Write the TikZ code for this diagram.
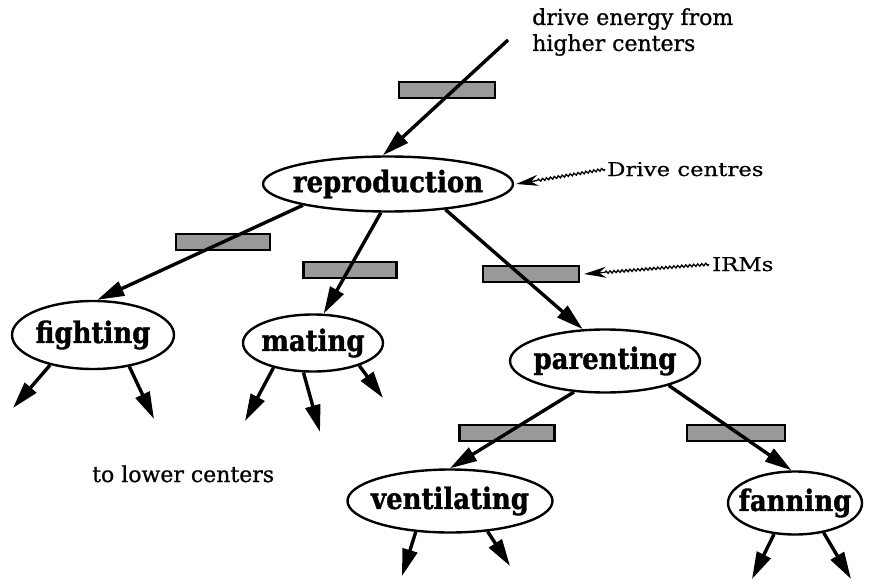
\documentclass[tikz,border=0pt]{standalone}
\usepackage{fontspec}
\setmainfont{DejaVu Serif}
\newfontfamily\labfont{DejaVu Serif}[FakeBold=0.8]
\newfontfamily\ptrfont{DejaVu Serif}[FakeStretch=1.2,FakeBold=0.6]
\newfontfamily\nodefont{DejaVu Serif}[FakeStretch=0.88,FakeBold=1.2]
\usetikzlibrary{arrows.meta,decorations.pathmorphing,shapes.geometric}
\begin{document}
\begin{tikzpicture}[x=1pt,y=-1pt,
  behav/.style={ellipse,draw,line width=2.4pt,inner sep=0pt,font=\nodefont\bfseries\fontsize{29.5}{31}\selectfont},
  bar/.style={rectangle,draw,line width=2.4pt,fill=black!40,inner sep=0pt,minimum height=16pt},
  link/.style={line width=3.4pt,-{Triangle[length=27pt,width=15pt]}},
  ptr/.style={line width=1.3pt,decorate,decoration={snake,amplitude=1.2pt,segment length=4pt,post length=20pt},-{Stealth[length=22pt,width=11pt]}},
  lab/.style={inner sep=0pt,font=\labfont\fontsize{22}{26}\selectfont,align=left},
  plab/.style={inner sep=0pt,font=\ptrfont\fontsize{19}{22}\selectfont}]
\useasboundingbox (0,0) rectangle (869,580);

% behaviour centres
\node[behav,minimum width=250pt,minimum height=55pt] (repro) at (388,184) {\makebox[0pt]{reproduction}};
\node[behav,minimum width=162pt,minimum height=68pt] (fight) at (93,335) {\makebox[0pt]{fighting}};
\node[behav,minimum width=140pt,minimum height=57pt] (mate) at (313,343) {\makebox[0pt]{mating}};
\node[behav,minimum width=190pt,minimum height=63pt] (par) at (605,361) {\makebox[0pt]{parenting}};
\node[behav,minimum width=205pt,minimum height=63pt] (vent) at (450,501) {\makebox[0pt]{ventilating}};
\node[behav,minimum width=134pt,minimum height=63pt] (fan) at (795,503) {\makebox[0pt]{fanning}};

% IRM bars
\node[bar,minimum width=96pt] (b0) at (447,90) {};
\node[bar,minimum width=94pt] (b1) at (223,242) {};
\node[bar,minimum width=93pt] (b2) at (350,270) {};
\node[bar,minimum width=96pt] (b3) at (531,274) {};
\node[bar,minimum width=95pt] (b4) at (507,433) {};
\node[bar,minimum width=98pt] (b5) at (736,433) {};

% labels
\node[lab,anchor=north west] (srclab) at (532,8) {drive energy from\\higher centers};
\node[plab,anchor=base west] (dc) at (607,176) {Drive centres};
\node[plab,anchor=base west] (irm) at (712,271) {IRMs};
\node[lab,anchor=base west] (low) at (92,482) {to lower centers};

% free ends
\coordinate (src) at (508,40);
\coordinate (f1) at (13,408);
\coordinate (f2) at (154,419);
\coordinate (m1) at (245,421);
\coordinate (m2) at (320,432);
\coordinate (m3) at (383,398);
\coordinate (v1) at (402,576);
\coordinate (v2) at (510,566);
\coordinate (n1) at (752,579);
\coordinate (n2) at (851,579);

% connectors
\draw[link] (src) -- (repro.100);
\draw[link] (repro.194) -- (fight.83);
\draw[link] (repro.256) -- (mate.70);
\draw[link] (repro.336) -- (par.125);
\draw[link] (par.225) -- (vent.90);
\draw[link] (par.339) -- (fan.96);

\draw[link] (fight.215) -- (f1);
\draw[link] (fight.319) -- (f2);
\draw[link] (mate.212) -- (m1);
\draw[link] (mate.252) -- (m2);
\draw[link] (mate.334) -- (m3);
\draw[link] (vent.222) -- (v1);
\draw[link] (vent.321) -- (v2);
\draw[link] (fan.236) -- (n1);
\draw[link] (fan.314) -- (n2);

% pointers
\draw[ptr] ([xshift=-2pt]dc.west) -- ([xshift=2pt]repro.east);
\draw[ptr] ([xshift=-3pt]irm.west) -- ([xshift=4pt]b3.east);
\end{tikzpicture}
\end{document}
